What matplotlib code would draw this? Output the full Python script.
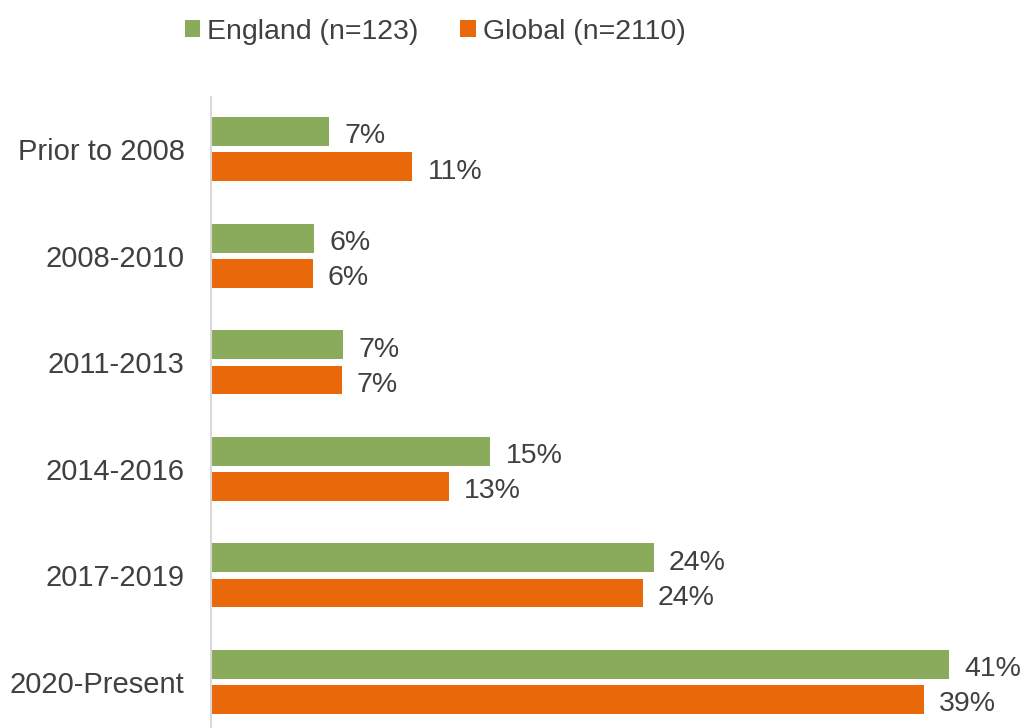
import matplotlib
matplotlib.use("Agg")
import matplotlib.pyplot as plt
from matplotlib.patches import Patch
import numpy as np

categories = ["Prior to 2008", "2008-2010", "2011-2013", "2014-2016", "2017-2019", "2020-Present"]
england = [6.5, 5.7, 7.3, 15.4, 24.4, 40.7]
global_ = [11.1, 5.6, 7.2, 13.1, 23.8, 39.3]
england_labels = ["7%", "6%", "7%", "15%", "24%", "41%"]
global_labels = ["11%", "6%", "7%", "13%", "24%", "39%"]
series_names = ["England (n=123)", "Global (n=2110)"]

GREEN = "#8AAB5B"
ORANGE = "#E9690A"
TEXT = "#404040"

plt.rcParams['font.family'] = ['Liberation Sans', 'DejaVu Sans']

W, H = 1029, 728
fig = plt.figure(figsize=(W / 100, H / 100), dpi=100)
ax_left = 211 / W
ax_top = 97 / H
ax = fig.add_axes([ax_left, 0, 1 - ax_left, 1 - ax_top])

y = np.arange(len(categories))
bh = 0.27
off = 0.165
ax.barh(y - off, england, height=bh, color=GREEN, label=series_names[0])
ax.barh(y + off, global_, height=bh, color=ORANGE, label=series_names[1])

for yi, v, lab in zip(y - off, england, england_labels):
    ax.annotate(lab, (v, yi), xytext=(11, -3.5), textcoords="offset points",
                va="center", ha="left", fontsize=20.5, color=TEXT)
for yi, v, lab in zip(y + off, global_, global_labels):
    ax.annotate(lab, (v, yi), xytext=(11, -3.5), textcoords="offset points",
                va="center", ha="left", fontsize=20.5, color=TEXT)

scale = 737.3 / 40.65  # px per percent
ax.set_xlim(0, (W - 211) / scale)
ax.set_ylim(5 + 46 / 106.56, -52.2 / 106.56)
ax.set_yticks(y)
ax.set_yticklabels(categories, fontsize=21, color=TEXT)
ax.tick_params(axis="y", length=0, pad=19)
ax.set_xticks([])
for s in ["top", "right", "bottom"]:
    ax.spines[s].set_visible(False)
ax.spines["left"].set_color("#D9D9D9")
ax.spines["left"].set_linewidth(1.5)

handles = [Patch(facecolor=GREEN, edgecolor="none"), Patch(facecolor=ORANGE, edgecolor="none")]
fig.legend(handles, series_names, loc="center", bbox_to_anchor=(435 / W, 1 - 32 / H),
           ncol=2, frameon=False, fontsize=20.5, handlelength=0.54, handleheight=0.54,
           handletextpad=0.25, columnspacing=1.47, labelcolor=TEXT)

fig.savefig("out.png", dpi=100)
